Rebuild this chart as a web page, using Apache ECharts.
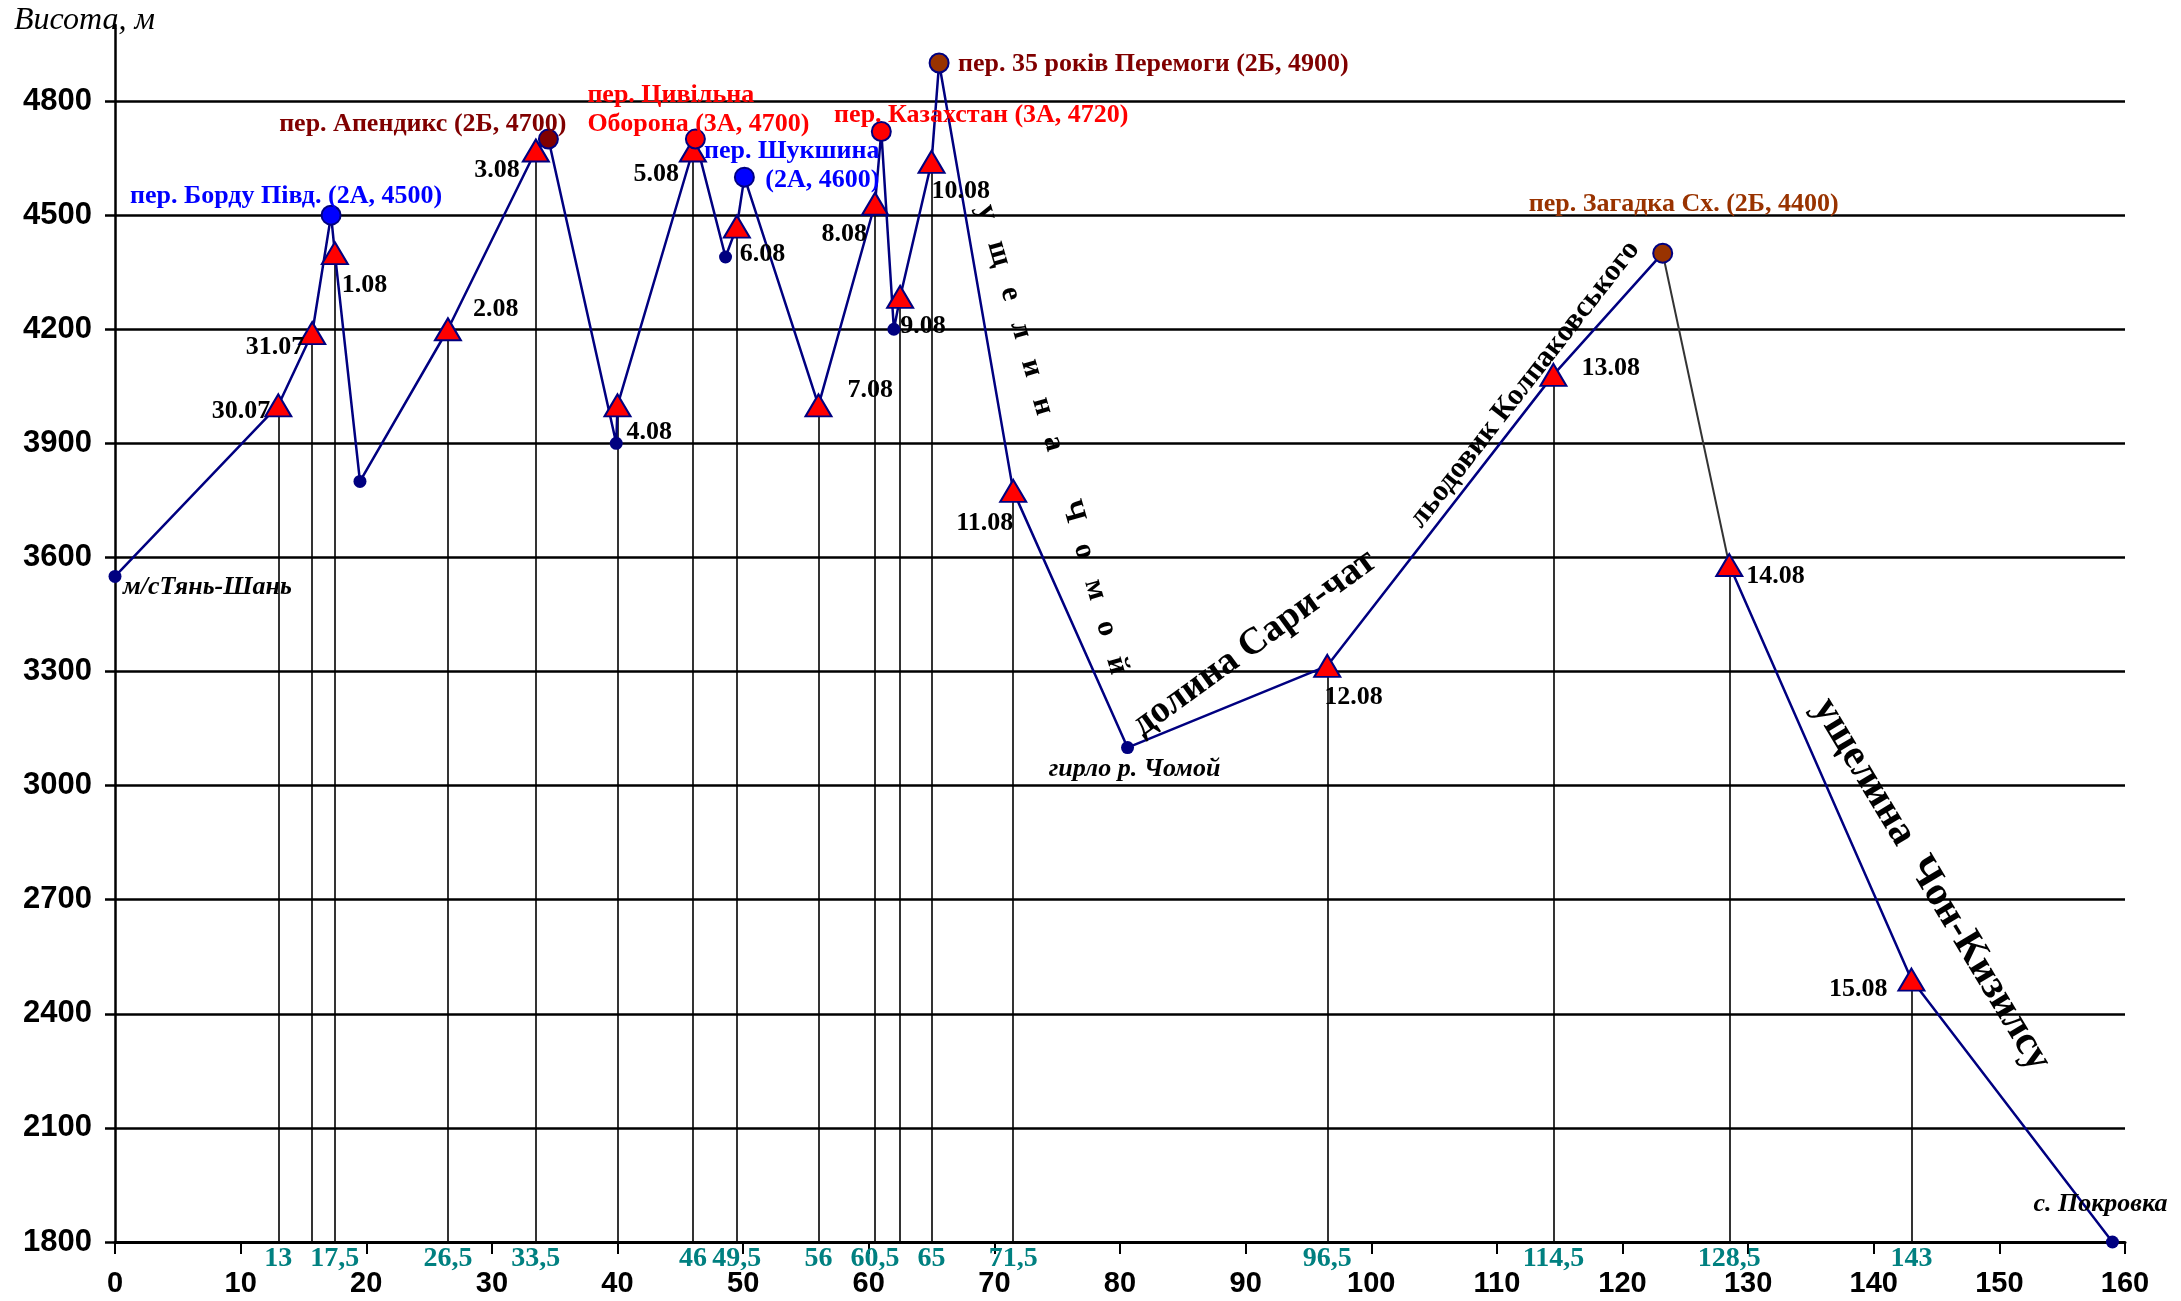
<!DOCTYPE html>
<html>
<head>
<meta charset="utf-8">
<title>Профіль маршруту</title>
<script src="https://cdn.jsdelivr.net/npm/echarts@6/dist/echarts.min.js"></script>
<style>
    html, body {margin: 0; padding: 0; background: #fff;}
    #main {width: 2181px; height: 1301px;}
</style>
</head>
<body>
<div id="main"></div>
<script>
    // маршрут: км від старту / висота, м
    var routeKm  = [0, 13, 15.7, 17.2, 17.5, 19.5, 26.5, 33.5, 34.5, 39.9, 40, 46, 46.2, 48.6, 49.5, 50.1, 56, 60.5, 61, 62, 62.5, 65, 65.6, 71.5, 80.6, 96.5, 114.5, 123.2];
    var routeAlt = [3550, 4000, 4190, 4500, 4400, 3800, 4200, 4670, 4700, 3900, 4000, 4670, 4700, 4390, 4470, 4600, 4000, 4530, 4720, 4200, 4285, 4640, 4900, 3775, 3100, 3315, 4080, 4400];

    // спуск ущелиною Чон-Кизилсу
    var descentKm  = [128.5, 143, 159];
    var descentAlt = [3580, 2490, 1800];

    // ночівлі
    var campKm   = [13, 15.7, 17.5, 26.5, 33.5, 40, 46, 49.5, 56, 60.5, 62.5, 65, 71.5, 96.5, 114.5, 128.5, 143];
    var campAlt  = [4000, 4190, 4400, 4200, 4670, 4000, 4670, 4470, 4000, 4530, 4285, 4640, 3775, 3315, 4080, 3580, 2490];
    var campDate = ['30.07', '31.07', '1.08', '2.08', '3.08', '4.08', '5.08', '6.08', '7.08', '8.08', '9.08', '10.08', '11.08', '12.08', '13.08', '14.08', '15.08'];

    // перевали
    var passKm   = [17.2, 34.5, 46.2, 50.1, 61, 65.6, 123.2];
    var passAlt  = [4500, 4700, 4700, 4600, 4720, 4900, 4400];
    var passName = ['пер. Борду Півд. (2А, 4500)', 'пер. Апендикс (2Б, 4700)', 'пер. Цивільна\nОборона (3А, 4700)',
        'пер. Шукшина\n(2А, 4600)', 'пер. Казахстан (3А, 4720)', 'пер. 35 років Перемоги (2Б, 4900)', 'пер. Загадка Сх. (2Б, 4400)'];

    // інші точки
    var pointKm   = [0, 19.5, 39.9, 48.6, 62, 80.6, 159];
    var pointAlt  = [3550, 3800, 3900, 4390, 4200, 3100, 1800];
    var pointName = ['м/сТянь-Шань', '', '', '', '', 'гирло р. Чомой', 'с. Покровка'];

    // підписи км під віссю
    var kmMarks = [13, 17.5, 26.5, 33.5, 46, 49.5, 56, 60.5, 65, 71.5, 96.5, 114.5, 128.5, 143];
    var yTicks  = [1800, 2100, 2400, 2700, 3000, 3300, 3600, 3900, 4200, 4500, 4800];

    // назви долин
    var valleyText = ['у   щ   е   л   и   н   а       Ч   о   м   о   й', 'долина Сари-чат', 'льодовик Колпаковського', 'ущелина  Чон-Кизилсу'];
    var valleyKm   = [74.6, 90.7, 112.2, 144.6];
    var valleyAlt  = [3910, 3375, 4055, 2740];

    // ---- оформлення ----
    var serif = '"Liberation Serif", "Times New Roman", serif';
    var sans = '"Liberation Sans", Arial, sans-serif';

    var campLabelPos = [
        ['right', -8, 6], ['right', -8, 14], ['left', 7, 32], ['left', 25, -20], ['right', -16, 20],
        ['left', 9, 27], ['right', -14, 24], ['left', 3, 28], ['left', 29, -15], ['right', -8, 31],
        ['left', 0, 29], ['left', 0, 29], ['right', 0, 32], ['left', -3, 31], ['left', 28, -7],
        ['left', 17, 11], ['right', -24, 10]
    ];
    var passStyle = [
        {fill: '#0000FF', text: '#0000FF', align: 'center', off: [-45, -19]},
        {fill: '#800000', text: '#800000', align: 'right', off: [18, -15]},
        {fill: '#FF0000', text: '#FF0000', align: 'left', off: [-108, -29]},
        {fill: '#0000FF', text: '#0000FF', align: 'right', off: [135, -11]},
        {fill: '#FF0000', text: '#FF0000', align: 'center', off: [100, -16]},
        {fill: '#993300', text: '#800000', align: 'left', off: [19, 1]},
        {fill: '#993300', text: '#993300', align: 'center', off: [21, -49]}
    ];
    var pointLabelPos = [
        ['left', 8, 11], null, null, null, null, ['center', 7, 22], ['center', -12, -38]
    ];
    var valleyStyle = [
        {rotate: -74, size: 30}, {rotate: 36, size: 38}, {rotate: 52, size: 30}, {rotate: -59, size: 41}
    ];

    function pairs(xs, ys) {
        return xs.map(function (x, i) {
            return [x, ys[i]];
        });
    }

    var chart = echarts.init(document.getElementById('main'));
    chart.setOption({
        animation: false,
        backgroundColor: '#fff',
        title: {
            text: 'Висота, м', left: 9, top: 0,
            textStyle: {fontFamily: serif, fontStyle: 'italic', fontWeight: 'normal', fontSize: 32, color: '#000'}
        },
        grid: {left: 115, right: 56, top: 25, bottom: 59, containLabel: false},
        xAxis: [
            {
                type: 'value', min: 0, max: 160, interval: 10,
                axisLine: {onZero: false, lineStyle: {color: '#000', width: 3}},
                axisTick: {length: 12, lineStyle: {color: '#000', width: 2}},
                splitLine: {show: false},
                axisLabel: {fontFamily: sans, fontWeight: 'bold', fontSize: 29, color: '#000', margin: 27}
            },
            {
                type: 'value', min: 0, max: 160, position: 'bottom',
                axisLine: {show: false}, axisTick: {show: false}, splitLine: {show: false},
                axisLabel: {
                    customValues: kmMarks,
                    formatter: function (v) {
                        return String(v).replace('.', ',');
                    },
                    fontFamily: serif, fontWeight: 'bold', fontSize: 28, color: '#008080', margin: 3
                }
            }
        ],
        yAxis: {
            type: 'value', min: 1800, max: 5000, interval: 300,
            splitLine: {show: false},
            axisLine: {lineStyle: {color: '#000', width: 2.5}},
            axisTick: {customValues: yTicks, length: 10, lineStyle: {color: '#000', width: 2.5}},
            axisLabel: {
                customValues: yTicks,
                formatter: function (v) {
                    return String(v);
                },
                fontFamily: sans, fontWeight: 'bold', fontSize: 31, color: '#000', margin: 23
            }
        },
        series: [
            {
                name: 'маршрут', type: 'line', silent: true, z: 3,
                data: pairs(routeKm, routeAlt),
                showSymbol: false,
                lineStyle: {color: '#000080', width: 2.5},
                markLine: {
                    silent: true, z: 1, symbol: ['none', 'none'],
                    label: {show: false},
                    lineStyle: {color: '#000', width: 2.5, type: 'solid'},
                    data: yTicks.map(function (v) {
                        return {yAxis: v};
                    })
                }
            },
            {
                name: 'лінії', type: 'lines', coordinateSystem: 'cartesian2d', silent: true, z: 2,
                lineStyle: {color: '#000', width: 1.6, opacity: 1},
                data: campKm.map(function (k, i) {
                    return {coords: [[k, campAlt[i]], [k, 1800]]};
                })
            },
            {
                name: 'перехід', type: 'line', silent: true, z: 3, showSymbol: false,
                data: [[routeKm[routeKm.length - 1], routeAlt[routeAlt.length - 1]], [descentKm[0], descentAlt[0]]],
                lineStyle: {color: '#333', width: 2}
            },
            {
                name: 'спуск', type: 'line', silent: true, z: 3, showSymbol: false,
                data: pairs(descentKm, descentAlt),
                lineStyle: {color: '#000080', width: 2.5}
            },
            {
                name: 'точки', type: 'scatter', silent: true, z: 4,
                symbol: 'circle', symbolSize: 13,
                itemStyle: {color: '#000080', opacity: 1},
                data: pointKm.map(function (k, i) {
                    var p = pointLabelPos[i];
                    var item = {value: [k, pointAlt[i]], name: pointName[i]};
                    if (p) {
                        item.label = {
                            show: true, position: 'inside', formatter: '{b}',
                            align: p[0], verticalAlign: 'middle', offset: [p[1], p[2]],
                            fontFamily: serif, fontStyle: 'italic', fontWeight: 'bold', fontSize: 26, color: '#000'
                        };
                    }
                    return item;
                })
            },
            {
                name: 'ночівлі', type: 'scatter', silent: true, z: 5,
                symbol: 'triangle', symbolSize: [26, 22],
                itemStyle: {color: '#FF0000', borderColor: '#000080', borderWidth: 2, opacity: 1},
                data: campKm.map(function (k, i) {
                    var p = campLabelPos[i];
                    return {
                        value: [k, campAlt[i]], name: campDate[i],
                        label: {
                            show: true, position: 'inside', formatter: '{b}',
                            align: p[0], verticalAlign: 'middle', offset: [p[1], p[2]],
                            fontFamily: serif, fontWeight: 'bold', fontSize: 26, color: '#000'
                        }
                    };
                })
            },
            {
                name: 'перевали', type: 'scatter', silent: true, z: 6,
                symbol: 'circle', symbolSize: 19,
                data: passKm.map(function (k, i) {
                    var s = passStyle[i];
                    return {
                        value: [k, passAlt[i]], name: passName[i],
                        itemStyle: {color: s.fill, borderColor: '#000080', borderWidth: 2, opacity: 1},
                        label: {
                            show: true, position: 'inside', formatter: '{b}',
                            align: s.align, verticalAlign: 'middle', offset: s.off, lineHeight: 29,
                            fontFamily: serif, fontWeight: 'bold', fontSize: 26, color: s.text
                        }
                    };
                })
            },
            {
                name: 'долини', type: 'scatter', silent: true, z: 7,
                symbolSize: 1, itemStyle: {color: 'transparent', opacity: 1},
                data: valleyKm.map(function (k, i) {
                    var s = valleyStyle[i];
                    return {
                        value: [k, valleyAlt[i]], name: valleyText[i],
                        label: {
                            show: true, position: 'inside', formatter: '{b}', rotate: s.rotate,
                            align: 'center', verticalAlign: 'middle',
                            fontFamily: serif, fontWeight: 'bold', fontSize: s.size, color: '#000'
                        }
                    };
                })
            }
        ]
    });
</script>
</body>
</html>
